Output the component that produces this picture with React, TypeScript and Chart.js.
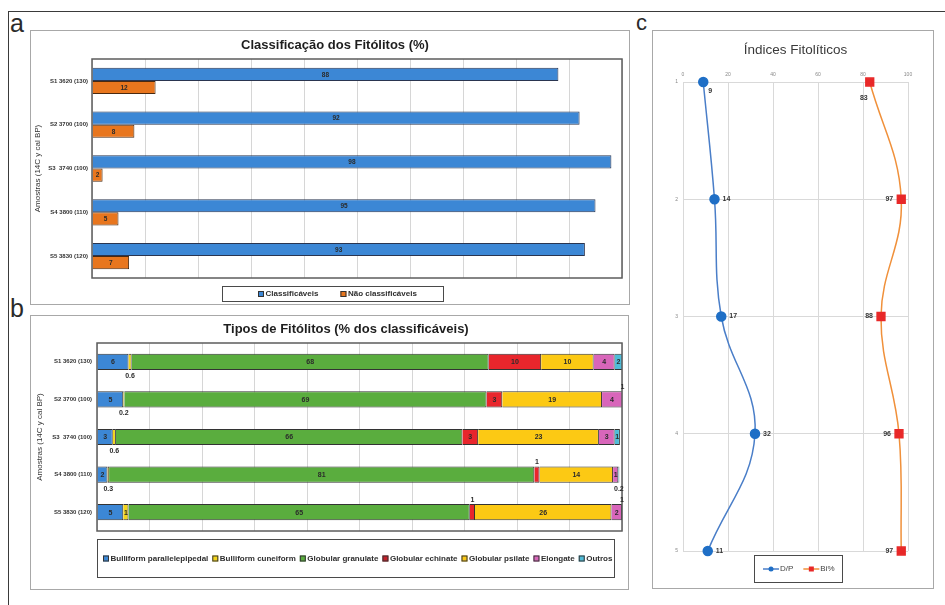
import React, { useEffect, useRef } from "react";
import { Chart, registerables } from "chart.js";

Chart.register(...registerables);

const FONT = "'Liberation Sans', Arial, Helvetica, sans-serif";
Chart.defaults.font.family = FONT;

// Samples with their ages (14C y cal BP)
const sampleLabels = ["S1 3620 (130)", "S2 3700 (100)", "S3  3740 (100)", "S4 3800 (110)", "S5 3830 (120)"];

// a — classification of phytoliths (%)
const classifiable = [88, 92, 98, 95, 93];
const unclassifiable = [12, 8, 2, 5, 7];

// b — phytolith types (% of the classifiable ones)
const bulliformParallelepipedal = [6, 5, 3, 2, 5];
const bulliformCuneiform = [0.6, 0.2, 0.6, 0.3, 1];
const globularGranulate = [68, 69, 66, 81, 65];
const globularEchinate = [10, 3, 3, 1, 1];
const globularPsilate = [10, 19, 23, 14, 26];
const elongate = [4, 4, 3, 1, 2];
const outros = [2, 1, 1, 0.2, 1];

// c — phytolith indices per sample level
const sampleLevels = [1, 2, 3, 4, 5];
const dpIndex = [9, 14, 17, 32, 11];
const biIndex = [83, 97, 88, 96, 97];

type Placement = "inside" | "above" | "below";

interface LegendBox {
  x: number;
  y: number;
  w: number;
  h: number;
  startX: number;
  gap: number;
  box: number;
  font: string;
}

// Chart title drawn at a fixed centre inside the panel
function panelTitle(text: string, font: string, color: string, cx: number, cy: number) {
  return {
    id: "panelTitle",
    afterDraw(chart: any) {
      const { ctx } = chart;
      ctx.save();
      ctx.font = font;
      ctx.fillStyle = color;
      ctx.textAlign = "center";
      ctx.textBaseline = "middle";
      ctx.fillText(text, cx, cy);
      ctx.restore();
    },
  };
}

function barDecorations(labelFont: string, placement: Record<string, Placement>, legend: LegendBox) {
  return {
    id: "barDecorations",
    afterDatasetsDraw(chart: any) {
      const { ctx, chartArea: ca } = chart;
      ctx.save();
      ctx.strokeStyle = "#5c5c5c";
      ctx.lineWidth = 1.5;
      ctx.strokeRect(ca.left, ca.top, ca.right - ca.left, ca.bottom - ca.top);

      // value labels on the bar segments
      ctx.font = labelFont;
      ctx.fillStyle = "#2b2b2b";
      ctx.textAlign = "center";
      ctx.textBaseline = "middle";
      chart.data.datasets.forEach((ds: any, di: number) => {
        const meta = chart.getDatasetMeta(di);
        meta.data.forEach((el: any, i: number) => {
          const v = ds.data[i] as number;
          const { x, y, base, height } = el.getProps(["x", "y", "base", "height"], true);
          const lo = Math.max(Math.min(x, base), ca.left);
          const hi = Math.min(Math.max(x, base), ca.right);
          const cx = (lo + hi) / 2;
          const p = placement[`${di}:${i}`] ?? "inside";
          const ty = p === "above" ? y - height / 2 - 4 : p === "below" ? y + height / 2 + 6 : y + 0.5;
          ctx.fillText(String(v), cx, ty);
        });
      });

      // legend in its frame
      const L = legend;
      ctx.strokeStyle = "#4a4a4a";
      ctx.lineWidth = 1;
      ctx.strokeRect(L.x + 0.5, L.y + 0.5, L.w, L.h);
      ctx.font = L.font;
      ctx.textAlign = "left";
      ctx.textBaseline = "middle";
      let lx = L.startX;
      const cy = L.y + L.h / 2 + 0.5;
      chart.data.datasets.forEach((ds: any) => {
        ctx.fillStyle = ds.legendColor ?? ds.backgroundColor;
        ctx.fillRect(lx, cy - L.box / 2, L.box, L.box);
        ctx.strokeStyle = "#333";
        ctx.strokeRect(lx + 0.5, cy - L.box / 2 + 0.5, L.box - 1, L.box - 1);
        ctx.fillStyle = "#2e2e2e";
        ctx.fillText(ds.label, lx + L.box + 1.5, cy);
        lx += L.box + 1.5 + ctx.measureText(ds.label).width + L.gap;
      });
      ctx.restore();
    },
  };
}

function configA(): any {
  return {
    type: "bar",
    data: {
      labels: sampleLabels,
      datasets: [
        { label: "Classificáveis", data: classifiable, backgroundColor: "#3c87d5", borderColor: "#2a3550", borderWidth: 1 },
        { label: "Não classificáveis", data: unclassifiable, backgroundColor: "#e8761e", borderColor: "#4a2a10", borderWidth: 1 },
      ],
    },
    options: {
      indexAxis: "y",
      responsive: false,
      animation: false,
      categoryPercentage: 0.6,
      barPercentage: 1,
      layout: { padding: { left: 0, right: 8, top: 29, bottom: 27 } },
      plugins: {
        legend: { display: false },
        tooltip: { enabled: false },
        title: { display: false },
      },
      scales: {
        x: {
          min: 0,
          max: 100,
          ticks: { display: false, stepSize: 10 },
          grid: { color: "#d6d6d6", drawTicks: false },
          border: { display: false },
          afterFit: (s: any) => { s.height = 0; },
        },
        y: {
          ticks: { font: { size: 6, weight: "bold" }, color: "#333", padding: 4 },
          grid: { display: false, drawTicks: false },
          border: { display: false },
          title: { display: true, text: "Amostras (14C y cal BP)", font: { size: 8 }, color: "#333", padding: { top: 3, bottom: 0 } },
          afterFit: (s: any) => { s.width = 62; },
        },
      },
    },
    plugins: [
      panelTitle("Classificação dos Fitólitos (%)", "bold 13px " + FONT, "#1e1e1e", 305, 15),
      barDecorations("bold 6.5px " + FONT, {}, { x: 192, y: 256, w: 221, h: 15, startX: 228, gap: 22, box: 6, font: "bold 8px " + FONT }),
    ],
  };
}

function configB(): any {
  const seg = (label: string, data: number[], color: string, legendColor?: string) => ({
    label,
    data,
    backgroundColor: color,
    legendColor,
    borderColor: "#333",
    borderWidth: 1,
  });
  return {
    type: "bar",
    data: {
      labels: sampleLabels,
      datasets: [
        seg("Bulliform parallelepipedal", bulliformParallelepipedal, "#3c87d5"),
        seg("Bulliform cuneiform", bulliformCuneiform, "#f3d41a"),
        seg("Globular granulate", globularGranulate, "#5aad3e"),
        seg("Globular echinate", globularEchinate, "#e8262c", "#c4202a"),
        seg("Globular psilate", globularPsilate, "#fcc914"),
        seg("Elongate", elongate, "#d866ba"),
        seg("Outros", outros, "#4fbcd8"),
      ],
    },
    options: {
      indexAxis: "y",
      responsive: false,
      animation: false,
      categoryPercentage: 1,
      barPercentage: 0.43,
      layout: { padding: { left: 0, right: 6, top: 28, bottom: 58 } },
      plugins: {
        legend: { display: false },
        tooltip: { enabled: false },
        title: { display: false },
      },
      scales: {
        x: {
          stacked: true,
          min: 0,
          max: 100,
          ticks: { display: false, stepSize: 10 },
          grid: { color: "#d6d6d6", drawTicks: false },
          border: { display: false },
          afterFit: (s: any) => { s.height = 0; },
        },
        y: {
          stacked: true,
          ticks: { font: { size: 6, weight: "bold" }, color: "#333", padding: 5 },
          grid: { display: false, drawTicks: false },
          border: { display: false },
          title: { display: true, text: "Amostras (14C y cal BP)", font: { size: 8 }, color: "#333", padding: { top: 5, bottom: 0 } },
          afterFit: (s: any) => { s.width = 67; },
        },
      },
    },
    plugins: [
      panelTitle("Tipos de Fitólitos (% dos classificáveis)", "bold 13px " + FONT, "#1e1e1e", 316, 14),
      barDecorations(
        "bold 7px " + FONT,
        {
          "1:0": "below",
          "1:1": "below",
          "1:2": "below",
          "1:3": "below",
          "3:3": "above",
          "3:4": "above",
          "6:1": "above",
          "6:3": "below",
          "6:4": "above",
        },
        { x: 67, y: 224, w: 517, h: 38, startX: 73, gap: 4, box: 6, font: "bold 8px " + FONT }
      ),
    ],
  };
}

function configC(): any {
  const dpColor = "#4a7ec8";
  const dpMarker = "#1f6fc6";
  const biColor = "#f0903a";
  const biMarker = "#e82828";
  const series = (values: number[]) => values.map((v, i) => ({ x: v, y: sampleLevels[i] }));

  const indexDecorations = {
    id: "indexDecorations",
    afterDatasetsDraw(chart: any) {
      const { ctx } = chart;
      ctx.save();
      ctx.font = "bold 7px " + FONT;
      ctx.fillStyle = "#333";
      ctx.textBaseline = "middle";
      // value labels: D/P to the right, Bi% to the left
      const dp = chart.getDatasetMeta(0).data;
      dp.forEach((pt: any, i: number) => {
        ctx.textAlign = "left";
        if (i === 0) ctx.fillText(String(dpIndex[i]), pt.x + 5, pt.y + 9);
        else ctx.fillText(String(dpIndex[i]), pt.x + 8, pt.y);
      });
      const bi = chart.getDatasetMeta(1).data;
      bi.forEach((pt: any, i: number) => {
        ctx.textAlign = "right";
        if (i === 0) ctx.fillText(String(biIndex[i]), pt.x - 2, pt.y + 16);
        else ctx.fillText(String(biIndex[i]), pt.x - 8, pt.y);
      });

      // legend
      const fx = 102, fy = 525, fw = 88, fh = 27;
      ctx.strokeStyle = "#4a4a4a";
      ctx.lineWidth = 1;
      ctx.strokeRect(fx + 0.5, fy + 0.5, fw, fh);
      ctx.font = "8px " + FONT;
      ctx.textAlign = "left";
      const cy = fy + fh / 2 + 0.5;
      let lx = 111;
      chart.data.datasets.forEach((ds: any, di: number) => {
        ctx.strokeStyle = ds.borderColor;
        ctx.lineWidth = 1.5;
        ctx.beginPath();
        ctx.moveTo(lx, cy);
        ctx.lineTo(lx + 16, cy);
        ctx.stroke();
        ctx.fillStyle = ds.pointBackgroundColor;
        if (di === 0) {
          ctx.beginPath();
          ctx.arc(lx + 8, cy, 2.5, 0, Math.PI * 2);
          ctx.fill();
        } else {
          ctx.fillRect(lx + 5.5, cy - 2.5, 5, 5);
        }
        ctx.fillStyle = "#444";
        ctx.fillText(ds.label, lx + 17, cy);
        lx += 17 + ctx.measureText(ds.label).width + 10;
      });
      ctx.restore();
    },
  };

  return {
    type: "scatter",
    data: {
      datasets: [
        {
          label: "D/P",
          data: series(dpIndex),
          showLine: true,
          borderColor: dpColor,
          borderWidth: 1.5,
          pointBackgroundColor: dpMarker,
          pointBorderColor: dpMarker,
          pointRadius: 4.5,
          pointStyle: "circle",
          tension: 0.4,
          clip: false,
        },
        {
          label: "Bi%",
          data: series(biIndex),
          showLine: true,
          borderColor: biColor,
          borderWidth: 1.5,
          pointBackgroundColor: biMarker,
          pointBorderColor: biMarker,
          pointRadius: 5.5,
          pointStyle: "rect",
          tension: 0.4,
          clip: false,
        },
      ],
    },
    options: {
      responsive: false,
      animation: false,
      layout: { padding: { left: 0, right: 25, top: 40, bottom: 37 } },
      plugins: {
        legend: { display: false },
        tooltip: { enabled: false },
        title: { display: false },
      },
      scales: {
        x: {
          type: "linear",
          position: "top",
          min: 0,
          max: 100,
          ticks: { stepSize: 20, font: { size: 5 }, color: "#888", padding: 4 },
          grid: { color: "#d9d9d9", drawTicks: false },
          border: { color: "#d9d9d9" },
          afterFit: (s: any) => { s.height = 12; },
        },
        y: {
          type: "linear",
          reverse: true,
          min: 1,
          max: 5,
          ticks: { stepSize: 1, font: { size: 5 }, color: "#888", padding: 5 },
          grid: { color: "#d9d9d9", drawTicks: false },
          border: { color: "#d9d9d9" },
          afterFit: (s: any) => { s.width = 31; },
        },
      },
    },
    plugins: [panelTitle("Índices Fitolíticos", "13.5px " + FONT, "#3a3a3a", 143.5, 20), indexDecorations],
  };
}

const panelFrame: React.CSSProperties = {
  position: "absolute",
  boxSizing: "border-box",
  border: "1.5px solid #a8a8a8",
  background: "#fff",
};

const letter = (size: number): React.CSSProperties => ({
  position: "absolute",
  fontFamily: FONT,
  fontSize: size,
  lineHeight: `${size}px`,
  color: "#2a2a2a",
});

export default function App() {
  const refA = useRef<HTMLCanvasElement>(null);
  const refB = useRef<HTMLCanvasElement>(null);
  const refC = useRef<HTMLCanvasElement>(null);

  useEffect(() => {
    const charts = [
      new Chart(refA.current!, configA()),
      new Chart(refB.current!, configB()),
      new Chart(refC.current!, configC()),
    ];
    return () => charts.forEach((c) => c.destroy());
  }, []);

  return (
    <div style={{ position: "absolute", left: 0, top: 0, width: 945, height: 605, overflow: "hidden", background: "#fff" }}>
      <div
        style={{
          position: "absolute",
          left: 8,
          top: 11,
          width: 1000,
          height: 700,
          borderTop: "1.5px solid #3a3a3a",
          borderLeft: "1.5px solid #3a3a3a",
        }}
      />
      <div style={{ ...panelFrame, left: 30, top: 30, width: 600, height: 275 }} />
      <div style={{ ...panelFrame, left: 30, top: 315, width: 599, height: 275 }} />
      <div style={{ ...panelFrame, left: 652, top: 30, width: 282, height: 559 }} />

      <div style={{ ...letter(25), left: 10, top: 11 }}>a</div>
      <div style={{ ...letter(25), left: 10, top: 296 }}>b</div>
      <div style={{ ...letter(22), left: 636, top: 12 }}>c</div>

      <canvas ref={refA} width={600} height={275} style={{ position: "absolute", left: 30, top: 30, width: 600, height: 275 }} />
      <canvas ref={refB} width={598} height={274} style={{ position: "absolute", left: 30, top: 315, width: 598, height: 274 }} />
      <canvas ref={refC} width={281} height={558} style={{ position: "absolute", left: 652, top: 30, width: 281, height: 558 }} />
    </div>
  );
}
